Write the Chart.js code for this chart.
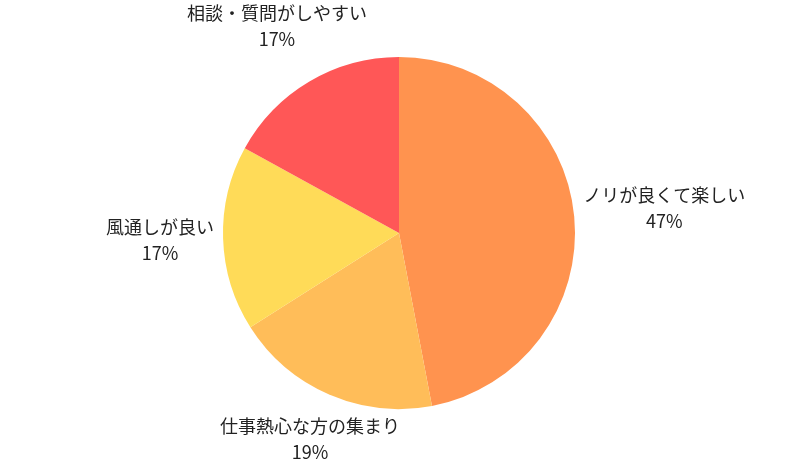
<!DOCTYPE html>
<html lang="ja">
<head>
   <meta charset="UTF-8" />
   <title>職場の雰囲気</title>
   <style>
      html, body {
         margin: 0;
         padding: 0;
         background-color: #ffffff;
      }
      .chart-container {
         position: relative;
         width: 800px;
         height: 469px;
      }
   </style>
   <script src="https://cdn.jsdelivr.net/npm/chart.js@4/dist/chart.umd.min.js"></script>
</head>
<body>
   <div class="chart-container">
      <canvas id="pieChart" aria-label="chart"></canvas>
   </div>

   <script>
      const categories = ['ノリが良くて楽しい', '仕事熱心な方の集まり', '風通しが良い', '相談・質問がしやすい'];
      const shares = [47, 19, 17, 17];
      const sliceColors = ['#FF934F', '#FFBD59', '#FFDB58', '#FF5757'];

      // draws "name / xx%" outside each slice, centred on the slice's middle angle
      const outerLabels = {
         id: 'outerLabels',
         afterDatasetsDraw(chart, args, opts) {
            const ctx = chart.ctx;
            const meta = chart.getDatasetMeta(0);
            const total = shares.reduce((a, b) => a + b, 0);
            ctx.save();
            ctx.font = opts.font;
            ctx.fillStyle = opts.color;
            ctx.textAlign = 'center';
            ctx.textBaseline = 'middle';
            meta.data.forEach((arc, i) => {
               const p = arc.getProps(['x', 'y', 'startAngle', 'endAngle', 'outerRadius'], true);
               const mid = (p.startAngle + p.endAngle) / 2;
               const dx = Math.cos(mid);
               const dy = Math.sin(mid);
               const pct = Math.round(shares[i] / total * 100) + '%';
               const w = Math.max(ctx.measureText(categories[i]).width, ctx.measureText(pct).width);
               const ext = Math.min(
                  Math.abs(dx) > 1e-6 ? (w / 2) / Math.abs(dx) : Infinity,
                  Math.abs(dy) > 1e-6 ? opts.halfHeight / Math.abs(dy) : Infinity
               );
               const nudge = (opts.nudge && opts.nudge[i]) || 0;
               const dist = p.outerRadius + opts.offset + ext + nudge;
               const cx = p.x + dx * dist;
               const cy = p.y + dy * dist;
               ctx.fillText(categories[i], cx, cy - opts.lineGap / 2);
               ctx.fillText(pct, cx, cy + opts.lineGap / 2);
            });
            ctx.restore();
         }
      };

      document.addEventListener('DOMContentLoaded', () => {
         const ctx = document.getElementById('pieChart').getContext('2d');
         new Chart(ctx, {
            type: 'pie',
            data: {
               labels: categories,
               datasets: [{
                  data: shares,
                  backgroundColor: sliceColors,
                  borderWidth: 0
               }]
            },
            options: {
               responsive: true,
               maintainAspectRatio: false,
               animation: false,
               layout: {
                  padding: { top: 57, bottom: 60, left: 223, right: 225 }
               },
               plugins: {
                  legend: { display: false },
                  tooltip: { enabled: false },
                  outerLabels: {
                     font: '18px "Noto Sans CJK JP", "Noto Sans", sans-serif',
                     color: '#222222',
                     lineGap: 26,
                     halfHeight: 36,
                     offset: 9,
                     nudge: [0, 0, 0, 13]
                  }
               }
            },
            plugins: [outerLabels]
         });
      });
   </script>
</body>
</html>
